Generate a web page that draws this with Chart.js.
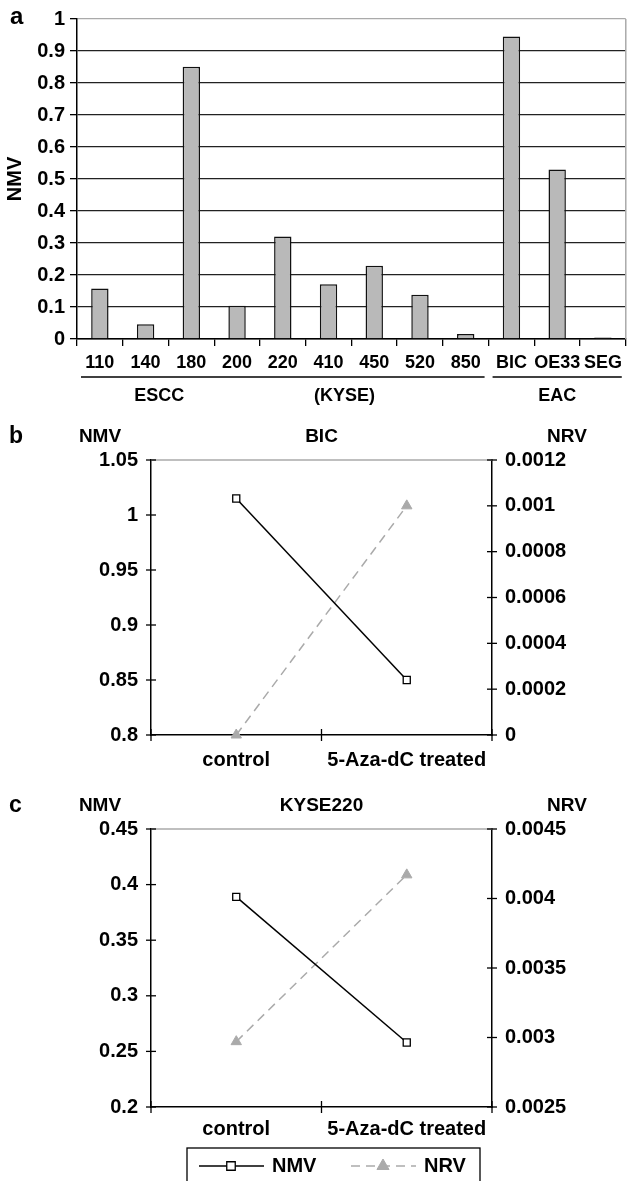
<!DOCTYPE html>
<html>
<head>
<meta charset="utf-8">
<script src="https://cdn.jsdelivr.net/npm/chart.js@4.4.1/dist/chart.umd.min.js"></script>
<style>
  html, body { margin: 0; padding: 0; background: #fff; }
  #page { position: relative; width: 628px; height: 1181px; overflow: hidden; }
  canvas { position: absolute; left: 0; }
</style>
</head>
<body>
<div id="page">
  <canvas id="chartA" width="628" height="420" style="top:0px"></canvas>
  <canvas id="chartB" width="628" height="370" style="top:420px"></canvas>
  <canvas id="chartC" width="628" height="391" style="top:790px"></canvas>
</div>
<script>
// ---- panel a: NMV per cell line
const cellLines = ['110', '140', '180', '200', '220', '410', '450', '520', '850', 'BIC', 'OE33', 'SEG'];
const nmvByLine = [0.158, 0.046, 0.851, 0.104, 0.32, 0.171, 0.229, 0.138, 0.016, 0.945, 0.53, 0.005];
const groupNames = ['ESCC', '(KYSE)', 'EAC'];
const groupCentres = [1.3, 5.35, 10];      // category units
const groupSpans = [[0, 8], [9, 11]];      // first / last category under each line

// ---- panels b and c: control vs treated
const treatments = ['control', '5-Aza-dC treated'];
const bicNMV = [1.015, 0.85];
const bicNRV = [0, 0.001];
const bicNMVAxis = [0.8, 1.05, 0.05];      // min, max, step
const bicNRVAxis = [0, 0.0012, 0.0002];
const kyseNMV = [0.389, 0.258];
const kyseNRV = [0.00297, 0.00417];
const kyseNMVAxis = [0.2, 0.45, 0.05];
const kyseNRVAxis = [0.0025, 0.0045, 0.0005];

const FONT = "'Liberation Sans', Arial, Helvetica, sans-serif";
Chart.defaults.font.family = FONT;
Chart.defaults.font.weight = 'bold';
Chart.defaults.color = '#000';

const fmt = v => String(Number(Number(v).toFixed(6)));

function line(ctx, x1, y1, x2, y2) {
  ctx.beginPath();
  ctx.moveTo(x1, y1);
  ctx.lineTo(x2, y2);
  ctx.stroke();
}

const panelA = {
  id: 'panelA',
  afterDraw(chart) {
    const {ctx, chartArea} = chart;
    const x = chart.scales.x;
    ctx.save();
    ctx.strokeStyle = '#aaa';
    ctx.lineWidth = 1.5;
    line(ctx, chartArea.right, chartArea.top, chartArea.right, chartArea.bottom);

    ctx.strokeStyle = '#000';
    ctx.lineWidth = 1.5;
    const uy = chartArea.bottom + 38;
    groupSpans.forEach(([a, b]) => {
      line(ctx, x.getPixelForValue(a - 0.5) + 4, uy, x.getPixelForValue(b + 0.5) - 4, uy);
    });

    ctx.fillStyle = '#000';
    ctx.font = 'bold 18px ' + FONT;
    ctx.textAlign = 'center';
    ctx.textBaseline = 'middle';
    groupNames.forEach((g, i) => ctx.fillText(g, x.getPixelForValue(groupCentres[i]), chartArea.bottom + 57));

    ctx.font = 'bold 24px ' + FONT;
    ctx.textAlign = 'left';
    ctx.fillText('a', 10, 17);
    ctx.restore();
  }
};

new Chart(document.getElementById('chartA'), {
  type: 'bar',
  data: {
    labels: cellLines,
    datasets: [{
      data: nmvByLine,
      backgroundColor: '#b9b9b9',
      borderColor: '#111',
      borderWidth: 1.5,
      barPercentage: 0.38,
      categoryPercentage: 1
    }]
  },
  options: {
    responsive: false,
    animation: false,
    devicePixelRatio: 1,
    layout: {padding: {top: 19, right: 2, left: 0, bottom: 0}},
    plugins: {legend: {display: false}, tooltip: {enabled: false}},
    scales: {
      x: {
        grid: {offset: true, drawOnChartArea: false, color: '#000', lineWidth: 1.3, tickLength: 7},
        border: {color: '#000', width: 1.5},
        ticks: {font: {size: 18}, padding: 6, maxRotation: 0, autoSkip: false},
        afterFit: s => { s.height = 81; }
      },
      y: {
        min: 0,
        max: 1,
        ticks: {stepSize: 0.1, font: {size: 20}, padding: 5, callback: fmt},
        grid: {
          color: c => (c.tick && c.tick.value > 0.999 ? '#aaa' : '#222'),
          tickColor: '#000',
          lineWidth: 1.3,
          tickLength: 7
        },
        border: {color: '#000', width: 1.5},
        title: {display: true, text: 'NMV', font: {size: 20}, padding: {top: 3, bottom: 0}},
        afterFit: s => { s.width = 77; }
      }
    }
  },
  plugins: [panelA]
});

function pairPlugin(letter, title, withLegend) {
  return {
    id: 'pair' + letter,
    afterDraw(chart) {
      const {ctx, chartArea} = chart;
      const {x, y, y1} = chart.scales;
      ctx.save();
      ctx.strokeStyle = '#aaa';
      ctx.lineWidth = 1.5;
      line(ctx, chartArea.left, chartArea.top, chartArea.right, chartArea.top);

      ctx.strokeStyle = '#000';
      ctx.lineWidth = 1.3;
      y.ticks.forEach(t => {
        const py = y.getPixelForValue(t.value);
        line(ctx, chartArea.left - 5, py, chartArea.left + 5, py);
      });
      y1.ticks.forEach(t => {
        const py = y1.getPixelForValue(t.value);
        line(ctx, chartArea.right - 5, py, chartArea.right + 5, py);
      });
      for (let i = 0; i <= treatments.length; i++) {
        const px = x.getPixelForValue(i - 0.5);
        line(ctx, px, chartArea.bottom - 6, px, chartArea.bottom + 6);
      }

      ctx.fillStyle = '#000';
      ctx.textBaseline = 'middle';
      ctx.textAlign = 'left';
      ctx.font = 'bold 23px ' + FONT;
      ctx.fillText(letter, 9, chartArea.top - 23);
      ctx.textAlign = 'center';
      ctx.font = 'bold 19px ' + FONT;
      const hy = chartArea.top - 23;
      ctx.fillText('NMV', chartArea.left - 51, hy);
      ctx.fillText(title, (chartArea.left + chartArea.right) / 2, hy);
      ctx.fillText('NRV', chartArea.right + 75, hy);

      if (withLegend) {
        const top = chartArea.bottom + 41;
        const my = top + 18;
        ctx.strokeStyle = '#000';
        ctx.lineWidth = 1.3;
        ctx.strokeRect(187, top, 293, 40);
        chart.data.datasets.forEach((ds, i) => {
          const x0 = i === 0 ? 199 : 351;
          ctx.strokeStyle = ds.borderColor;
          ctx.lineWidth = 1.5;
          ctx.setLineDash(ds.borderDash || []);
          line(ctx, x0, my, x0 + 65, my);
          ctx.setLineDash([]);
          ctx.fillStyle = ds.pointBackgroundColor;
          ctx.strokeStyle = ds.pointBorderColor;
          ctx.lineWidth = ds.pointBorderWidth || 1;
          Chart.helpers.drawPoint(ctx, {pointStyle: ds.pointStyle, radius: ds.pointRadius + 1, borderWidth: ds.pointBorderWidth || 1, rotation: 0}, x0 + 32, my);
          ctx.fillStyle = '#000';
          ctx.textAlign = 'left';
          ctx.font = 'bold 20px ' + FONT;
          ctx.fillText(ds.label, x0 + 73, my);
        });
      }
      ctx.restore();
    }
  };
}

function pairChart(id, nmv, nrv, leftAxis, rightAxis, letter, title, opts) {
  return new Chart(document.getElementById(id), {
    type: 'line',
    data: {
      labels: treatments,
      datasets: [{
        label: 'NMV',
        data: nmv,
        yAxisID: 'y',
        borderColor: '#000',
        borderWidth: 1.5,
        pointStyle: 'rect',
        pointRadius: 5,
        pointBackgroundColor: '#fff',
        pointBorderColor: '#000',
        pointBorderWidth: 1.3,
        clip: false
      }, {
        label: 'NRV',
        data: nrv,
        yAxisID: 'y1',
        borderColor: '#aaa',
        borderDash: [9, 6],
        borderWidth: 1.5,
        pointStyle: 'triangle',
        pointRadius: 6,
        pointBackgroundColor: '#aaa',
        pointBorderColor: '#aaa',
        pointBorderWidth: 1,
        clip: false
      }]
    },
    options: {
      responsive: false,
      animation: false,
      devicePixelRatio: 1,
      layout: {padding: {top: opts.top, right: 0, left: 0, bottom: opts.bottom}},
      plugins: {legend: {display: false}, tooltip: {enabled: false}},
      scales: {
        x: {
          offset: true,
          grid: {display: false, drawTicks: false},
          border: {color: '#000', width: 1.5},
          ticks: {font: {size: 20}, padding: opts.xPad, maxRotation: 0},
          afterFit: s => { s.height = opts.xHeight; }
        },
        y: {
          position: 'left',
          min: leftAxis[0],
          max: leftAxis[1],
          ticks: {stepSize: leftAxis[2], font: {size: 20}, padding: 13, callback: fmt},
          grid: {display: false, drawTicks: false},
          border: {color: '#000', width: 1.5},
          afterFit: s => { s.width = 151; }
        },
        y1: {
          position: 'right',
          min: rightAxis[0],
          max: rightAxis[1],
          ticks: {stepSize: rightAxis[2], font: {size: 20}, padding: 13, callback: fmt},
          grid: {display: false, drawTicks: false},
          border: {color: '#000', width: 1.5},
          afterFit: s => { s.width = 136; }
        }
      }
    },
    plugins: [pairPlugin(letter, title, opts.legend)]
  });
}

pairChart('chartB', bicNMV, bicNRV, bicNMVAxis, bicNRVAxis, 'b', 'BIC',
  {top: 40, bottom: 0, xPad: 13, xHeight: 55, legend: false});
pairChart('chartC', kyseNMV, kyseNRV, kyseNMVAxis, kyseNRVAxis, 'c', 'KYSE220',
  {top: 39, bottom: 40, xPad: 10, xHeight: 34, legend: true});
</script>
</body>
</html>
